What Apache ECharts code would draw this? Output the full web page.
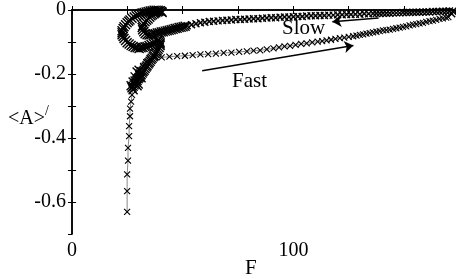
<!DOCTYPE html>
<html>
<head>
<meta charset="utf-8">
<script src="https://cdn.jsdelivr.net/npm/echarts@6/dist/echarts.min.js"></script>
<style>
  html, body { margin: 0; padding: 0; background: #fff; }
  #main { width: 456px; height: 279px; }
</style>
</head>
<body>
<div id="main"></div>
<script>
// fast branch: up from the bottom, then right along the lower line
var fastF = [24.9, 24.9, 24.9, 25.3, 25.3, 25.8, 25.8, 26.2, 26.2, 26.7, 27.1, 27.6, 28.1, 29.0, 29.9, 30.8, 32.1, 33.5, 35.3, 37.6,
  40.5, 44, 47.5, 51, 54.5, 58, 61.5, 65, 68.5, 72, 75.5, 79, 82, 85, 88, 91, 93.5, 96, 98.5, 101, 103.5, 106, 108.5, 111,
  113, 115, 117, 119, 121, 123, 125, 127, 128.5, 130, 131.5, 133, 134.5, 136, 137.5, 139, 140.5, 142, 143.5, 145, 146.5, 148,
  149.5, 151, 152.5, 154, 155.5, 157, 158.5, 160, 161.5, 163, 164.5, 166, 167.5, 169, 170];
var fastA = [-0.631, -0.566, -0.514, -0.471, -0.431, -0.394, -0.363, -0.332, -0.308, -0.286, -0.265, -0.246, -0.231, -0.215, -0.200, -0.188, -0.175, -0.163, -0.154, -0.148,
  -0.148, -0.146, -0.144, -0.143, -0.141, -0.139, -0.138, -0.136, -0.134, -0.133, -0.131, -0.129, -0.127, -0.126, -0.123, -0.120, -0.117, -0.114, -0.112, -0.109,
  -0.106, -0.104, -0.101, -0.099, -0.097, -0.095, -0.093, -0.090, -0.088, -0.086, -0.084, -0.082, -0.080, -0.078, -0.076, -0.074, -0.072, -0.070, -0.068, -0.066,
  -0.064, -0.063, -0.061, -0.059, -0.057, -0.055, -0.053, -0.051, -0.048, -0.046, -0.044, -0.042, -0.040, -0.037, -0.035, -0.033, -0.031, -0.028, -0.026, -0.024, -0.022];

// slow branch: back left along the top (first 68 points), then the curl and the way down
var slowF = [171.5, 172, 170.5, 169, 167.5, 166, 164.5, 163, 161.5, 160, 158.5, 157, 155.5, 154, 152.5, 151, 149.5, 148, 146.5, 145,
  143.5, 142, 140.5, 139, 137.5, 136, 134, 132, 130, 128, 126, 124, 122, 120, 118, 116, 114, 112, 110, 108, 106, 104, 102, 100,
  98, 96, 94, 92, 90, 88, 86, 84, 82, 80, 78, 76, 74, 72, 70, 68, 66, 64, 62, 60, 58, 56, 54, 52,
  51.1, 50.2, 49.3, 48.4, 47.5, 46.6, 45.7, 44.8, 43.9, 43.0, 42.1, 41.2, 40.3, 39.4, 38.5, 37.6, 36.7, 35.7, 34.8, 33.9,
  33.0, 32.4, 31.9, 31.7, 31.9, 32.4, 33.0, 33.7, 34.4, 35.1, 35.7, 36.4, 37.1, 37.8, 38.5, 39.1, 39.8, 40.5, 40.7, 39.8,
  38.9, 38.0, 37.1, 36.2, 35.3, 34.4, 33.5, 32.6, 31.7, 30.8, 29.9, 29.0, 28.1, 27.1, 26.2, 25.6, 24.9, 24.2, 23.5, 23.1,
  22.6, 22.6, 22.6, 23.1, 23.5, 24.2, 24.9, 25.8, 26.7, 27.6, 28.5, 29.4, 30.3, 31.2, 32.1, 33.0, 33.9, 34.8, 35.7, 36.7,
  37.6, 38.5, 38.9, 39.6, 39.8, 39.8, 39.8, 39.4, 38.9, 38.5, 38.0, 37.6, 37.1, 36.7, 36.2, 35.7, 35.3, 34.8, 34.4, 33.9,
  33.5, 33.0, 32.6, 32.1, 31.7, 31.2, 30.8, 30.3, 29.9, 29.4, 29.0, 28.5, 28.1, 27.6, 27.1, 27.6,
  29.4, 28.5, 30.8, 29.4, 28.5, 26.7, 27.6, 30.3, 31.2, 29.9];
var slowA = [-0.012, -0.004, -0.003, -0.004, -0.004, -0.005, -0.005, -0.005, -0.006, -0.006, -0.006, -0.007, -0.007, -0.007, -0.008, -0.008, -0.008, -0.009, -0.009, -0.009,
  -0.010, -0.010, -0.010, -0.011, -0.011, -0.011, -0.012, -0.012, -0.013, -0.013, -0.014, -0.014, -0.015, -0.015, -0.016, -0.016, -0.017, -0.017, -0.018, -0.018,
  -0.019, -0.020, -0.020, -0.021, -0.022, -0.022, -0.023, -0.024, -0.024, -0.025, -0.026, -0.027, -0.027, -0.028, -0.029, -0.030, -0.030, -0.031, -0.032, -0.033,
  -0.034, -0.035, -0.036, -0.038, -0.040, -0.043, -0.046, -0.049,
  -0.051, -0.052, -0.054, -0.055, -0.057, -0.058, -0.060, -0.062, -0.063, -0.065, -0.066, -0.068, -0.069, -0.071, -0.072, -0.074, -0.075, -0.077, -0.078, -0.077,
  -0.074, -0.068, -0.062, -0.055, -0.049, -0.043, -0.037, -0.032, -0.028, -0.023, -0.018, -0.015, -0.012, -0.009, -0.006, -0.005, -0.003, -0.005, -0.008, -0.002,
  -0.001, -0.001, -0.001, -0.002, -0.003, -0.005, -0.006, -0.008, -0.009, -0.012, -0.015, -0.018, -0.022, -0.026, -0.031, -0.035, -0.040, -0.046, -0.052, -0.058,
  -0.065, -0.071, -0.077, -0.083, -0.089, -0.095, -0.102, -0.106, -0.111, -0.114, -0.117, -0.118, -0.120, -0.118, -0.117, -0.115, -0.114, -0.111, -0.108, -0.105,
  -0.102, -0.098, -0.095, -0.098, -0.102, -0.106, -0.111, -0.117, -0.123, -0.128, -0.132, -0.137, -0.142, -0.146, -0.151, -0.155, -0.160, -0.165, -0.169, -0.174,
  -0.178, -0.183, -0.188, -0.192, -0.197, -0.202, -0.206, -0.211, -0.215, -0.220, -0.225, -0.229, -0.234, -0.238, -0.243, -0.249,
  -0.237, -0.222, -0.200, -0.194, -0.209, -0.237, -0.225, -0.188, -0.212, -0.231];
var slowTopCount = 68;

var xTicks = [0, 100];
var yTicks = [0, -0.2, -0.4, -0.6];

function pairs(xs, ys) {
  var out = [];
  for (var i = 0; i < xs.length; i++) out.push([xs[i], ys[i]]);
  return out;
}

var serif = '"Liberation Serif", "Times New Roman", serif';
var cross = 'path://M0,0L10,10M10,0L0,10';
var axisLineStyle = { color: '#000', width: 1.5 };

var chart = echarts.init(document.getElementById('main'));

var markerStyle = { color: 'transparent', borderColor: '#000', borderWidth: 1.1 };

var option = {
  animation: false,
  backgroundColor: '#fff',
  grid: { left: 72, right: 1, top: 7, bottom: 45 },
  xAxis: [{
    type: 'value', min: 0, max: 173, interval: 25,
    axisLine: { lineStyle: axisLineStyle },
    axisTick: { inside: true, length: 4, lineStyle: { color: '#000' } },
    splitLine: { show: false },
    axisLabel: {
      color: '#000', fontFamily: serif, fontSize: 20, margin: 7,
      showMaxLabel: false,
      formatter: function (v) { return xTicks.indexOf(v) >= 0 ? String(v) : ''; }
    }
  }, {
    type: 'value', min: 0, max: 173, interval: 25, position: 'top',
    axisLine: { lineStyle: axisLineStyle },
    axisTick: { inside: true, length: 4, lineStyle: { color: '#000' } },
    splitLine: { show: false },
    axisLabel: { show: false }
  }],
  yAxis: [{
    type: 'value', min: -0.7, max: 0, interval: 0.1,
    axisLine: { show: true, lineStyle: axisLineStyle },
    axisTick: { show: true, inside: true, length: 4, lineStyle: { color: '#000' } },
    splitLine: { show: false },
    axisLabel: {
      color: '#000', fontFamily: serif, fontSize: 20, margin: 6,
      showMinLabel: false,
      formatter: function (v) {
        var r = Math.round(v * 10) / 10;
        for (var i = 0; i < yTicks.length; i++) {
          if (Math.abs(yTicks[i] - r) < 1e-6) return String(yTicks[i]);
        }
        return '';
      }
    }
  }, {
    type: 'value', min: -0.7, max: 0, interval: 0.1, position: 'right',
    axisLine: { show: true, lineStyle: axisLineStyle },
    axisTick: { show: true, inside: true, length: 4, lineStyle: { color: '#000' } },
    splitLine: { show: false },
    axisLabel: { show: false }
  }],
  series: [{
    name: 'Fast', type: 'line',
    data: pairs(fastF, fastA),
    symbol: cross, symbolSize: 6,
    itemStyle: markerStyle,
    lineStyle: { color: '#888', width: 1 },
    markLine: {
      silent: true, symbol: ['none', 'arrow'], symbolSize: 9,
      lineStyle: { color: '#000', width: 1.5, type: 'solid' },
      label: { show: false },
      data: [
        [{ coord: [58.8, -0.19] }, { coord: [127.1, -0.111] }],
        [{ coord: [138.5, -0.025] }, { coord: [117.6, -0.037] }]
      ]
    }
  }, {
    name: 'Slow', type: 'line',
    data: pairs(slowF, slowA),
    symbol: cross,
    symbolSize: function (val, params) { return params.dataIndex >= slowTopCount ? 9 : 7; },
    itemStyle: { color: 'transparent', borderColor: '#000', borderWidth: 1.4 },
    lineStyle: { color: '#888', width: 1 }
  }],
  graphic: [
    { type: 'text', left: 282, top: 18, style: { text: 'Slow', font: '21px ' + serif, fill: '#000' } },
    { type: 'text', left: 232, top: 71, style: { text: 'Fast', font: '21px ' + serif, fill: '#000' } },
    { type: 'text', left: 245, top: 258, style: { text: 'F', font: '21px ' + serif, fill: '#000' } },
    {
      type: 'text', left: 8, top: 104,
      style: {
        text: '{a|<A>}{p|/}',
        rich: {
          a: { fontFamily: serif, fontSize: 20, color: '#000' },
          p: { fontFamily: serif, fontSize: 14, color: '#000', padding: [0, 0, 16, 0] }
        }
      }
    }
  ]
};

chart.setOption(option);
</script>
</body>
</html>
